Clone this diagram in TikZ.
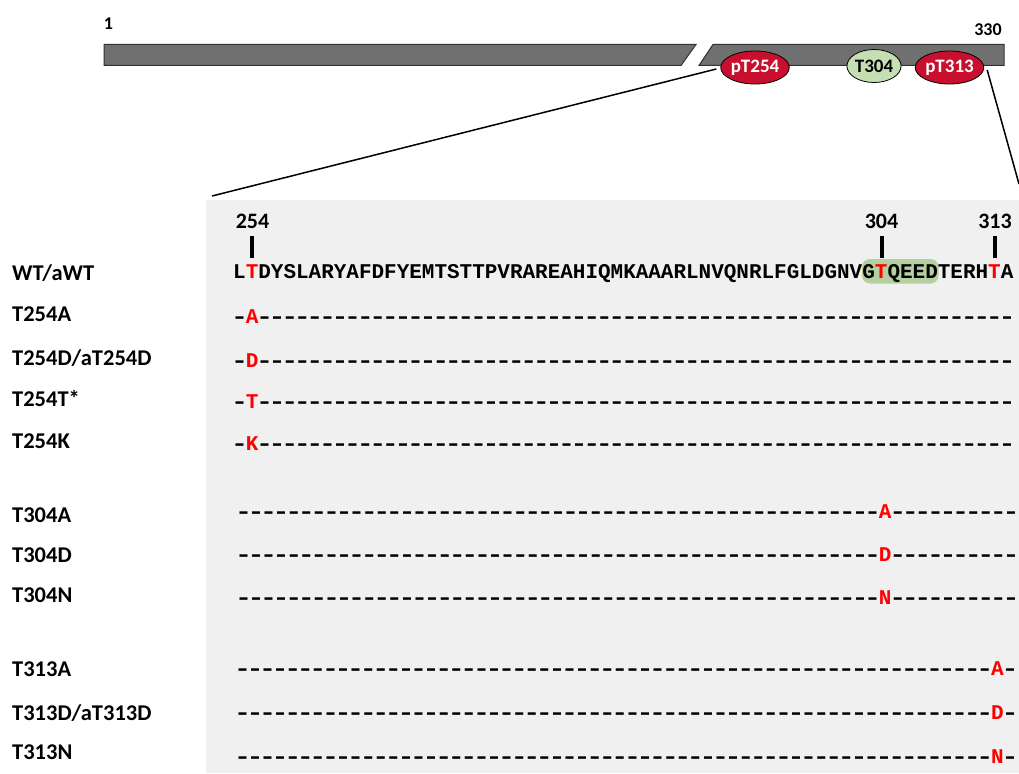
\documentclass[tikz,border=0pt]{standalone}
\usepackage{fontspec}
\usepackage{graphicx}
\setmainfont{Carlito}
\newfontfamily\seqfont[Ligatures=TeXOff]{Liberation Mono}
\usetikzlibrary{shapes.geometric}
\definecolor{panelgray}{RGB}{240,240,240}
\definecolor{bargray}{RGB}{112,112,112}
\definecolor{baredge}{RGB}{50,50,50}
\definecolor{pred}{RGB}{200,16,46}
\definecolor{pgreen}{RGB}{197,222,178}
\definecolor{hlgreen}{RGB}{182,207,160}
\definecolor{mred}{RGB}{255,0,0}
\newcommand\mut[1]{\textcolor{mred}{#1}}
\newcommand\hc{\makebox[0.6em]{\scalebox{1.35}[1]{-}}}
\newcommand\hy[1]{\foreach\i in {1,...,#1}{\hc}}
\begin{document}
\begin{tikzpicture}[x=1pt,y=-1pt,
  lab/.style={anchor=base west, inner sep=0pt, font=\bfseries\fontsize{22.5}{27}\selectfont},
  seqtext/.style={anchor=base west, inner sep=0pt, font=\seqfont\bfseries\fontsize{20.97}{25}\selectfont},
  posnum/.style={anchor=base, inner sep=0pt, font=\bfseries\fontsize{22}{26}\selectfont},
  endnum/.style={anchor=base, inner sep=0pt, font=\bfseries\fontsize{18}{22}\selectfont},
  tickmark/.style={line width=4pt},
  site/.style={ellipse, draw=black, line width=0.8pt, minimum width=53pt, minimum height=33pt, inner sep=0pt, font=\bfseries\fontsize{19}{22}\selectfont},
  barpart/.style={fill=bargray, draw=baredge, line width=1pt},
  zoomline/.style={line width=1.5pt, draw=black}]
\useasboundingbox (0,0) rectangle (1019,773);
% panel
\fill[panelgray] (206,200) rectangle (1019,773);
% protein bar
\draw[barpart] (104,44.5) -- (696,44.5) -- (681,65.5) -- (104,65.5) -- cycle;
\draw[barpart] (713,44.5) -- (1004,44.5) -- (1004,65.5) -- (699,65.5) -- cycle;
\node[endnum] (n1) at (108.5,30) {1};
\node[endnum] (n330) at (988,36) {330};
% sites
\node[site, fill=pred, text=white] (p254) at (755,67.5) {pT254};
\node[site, fill=pgreen, text=black] (t304) at (874,66) {T304};
\node[site, fill=pred, text=white] (p313) at (949.5,67.5) {pT313};
% zoom lines
\coordinate (zl) at (212,196);
\coordinate (zr) at (1019,184);
\draw[zoomline] (zl) -- ([xshift=-4pt,yshift=-1.5pt]p254.west);
\draw[zoomline] ([xshift=3pt,yshift=-2.5pt]p313.east) -- (zr);
% highlight
\fill[hlgreen, rounded corners=8pt] (862,259) rectangle (938.5,283.5);
% position numbers and ticks
\node[posnum] (n254) at (252.5,228.5) {254};
\node[posnum] (n304) at (881.5,228.5) {304};
\node[posnum] (n313) at (995,228.5) {313};
\draw[tickmark] (252,236) -- (252,258);
\draw[tickmark] (881.5,236) -- (881.5,258);
\draw[tickmark] (995,236) -- (995,258);
% labels
\node[lab] (lwt) at (12,280) {WT/aWT};
\node[lab] (l254a) at (12,321.5) {T254A};
\node[lab] (l254d) at (12,365) {T254D/aT254D};
\node[lab] (l254t) at (12,406.5) {T254T*};
\node[lab] (l254k) at (12,448) {T254K};
\node[lab] (l304a) at (12,522.5) {T304A};
\node[lab] (l304d) at (12,562.5) {T304D};
\node[lab] (l304n) at (12,602.5) {T304N};
\node[lab] (l313a) at (12,676.5) {T313A};
\node[lab] (l313d) at (12,720) {T313D/aT313D};
\node[lab] (l313n) at (12,759.5) {T313N};
% sequences
\node[seqtext] (swt) at (233,278) {L\mut{T}DYSLARYAFDFYEMTSTTPVRAREAHIQMKAAARLNVQNRLFGLDGNVG\mut{T}QEEDTERH\mut{T}A};
\node[seqtext] (s254a) at (233,323) {\hc\mut{A}\hy{60}};
\node[seqtext] (s254d) at (233,367) {\hc\mut{D}\hy{60}};
\node[seqtext] (s254t) at (233,408) {\hc\mut{T}\hy{60}};
\node[seqtext] (s254k) at (233,450) {\hc\mut{K}\hy{60}};
\node[seqtext] (s304a) at (237,518.5) {\hy{51}\mut{A}\hy{10}};
\node[seqtext] (s304d) at (237,561.5) {\hy{51}\mut{D}\hy{10}};
\node[seqtext] (s304n) at (237,604) {\hy{51}\mut{N}\hy{10}};
\node[seqtext] (s313a) at (236,675) {\hy{60}\mut{A}\hc};
\node[seqtext] (s313d) at (236,719) {\hy{60}\mut{D}\hc};
\node[seqtext] (s313n) at (236,763) {\hy{60}\mut{N}\hc};
\end{tikzpicture}
\end{document}
